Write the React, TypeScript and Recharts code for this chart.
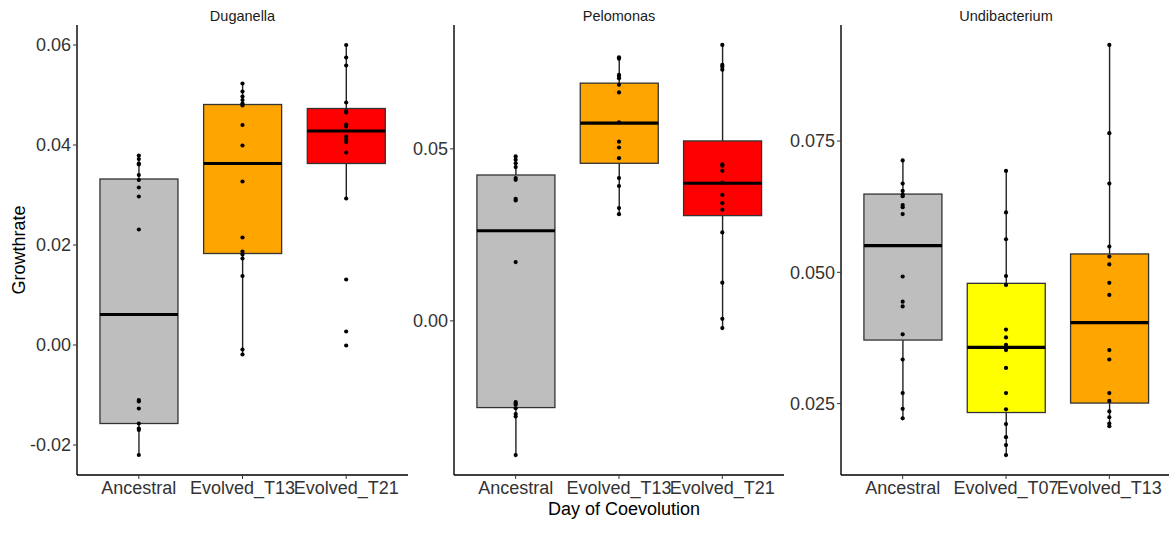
import React from 'react';
import { ComposedChart, Bar, Scatter, XAxis, YAxis } from 'recharts';

const FONT = "'Liberation Sans', Arial, Helvetica, sans-serif";

// ---------- Duganella ----------
const dugCats = ['Ancestral', 'Evolved_T13', 'Evolved_T21'];
const dugFill = ['#BEBEBE', '#FFA500', '#FF0000'];
const dugLow = [-0.022, -0.0019, 0.0293];
const dugQ1 = [-0.0157, 0.0183, 0.0363];
const dugMed = [0.0061, 0.0363, 0.0428];
const dugQ3 = [0.0332, 0.0481, 0.0473];
const dugHigh = [0.0379, 0.0523, 0.06];
const dugAncestral = [0.0379, 0.0372, 0.0363, 0.0361, 0.034, 0.033, 0.0315, 0.0297, 0.0231, -0.011, -0.0113, -0.0127, -0.0157, -0.0167, -0.017, -0.022];
const dugT13 = [0.0523, 0.0507, 0.0497, 0.049, 0.0483, 0.0479, 0.044, 0.0399, 0.0327, 0.0215, 0.0187, 0.0181, 0.0173, 0.0138, -0.0009, -0.0019];
const dugT21 = [0.06, 0.0575, 0.0559, 0.0485, 0.0468, 0.0465, 0.0441, 0.0437, 0.0417, 0.0411, 0.0406, 0.0385, 0.0293, 0.0131, 0.0027, -0.0001];
const dugTicks = [-0.02, 0, 0.02, 0.04, 0.06];

// ---------- Pelomonas ----------
const pelCats = ['Ancestral', 'Evolved_T13', 'Evolved_T21'];
const pelFill = ['#BEBEBE', '#FFA500', '#FF0000'];
const pelLow = [-0.039, 0.031, -0.0021];
const pelQ1 = [-0.0252, 0.0458, 0.0306];
const pelMed = [0.0262, 0.0575, 0.04];
const pelQ3 = [0.0424, 0.0691, 0.0523];
const pelHigh = [0.0478, 0.0766, 0.0802];
const pelAncestral = [0.0478, 0.0468, 0.0458, 0.0447, 0.0415, 0.041, 0.0355, 0.035, 0.0171, -0.0236, -0.024, -0.0244, -0.0254, -0.0271, -0.0278, -0.039];
const pelT13 = [0.0766, 0.0762, 0.0715, 0.0712, 0.0705, 0.0686, 0.0664, 0.0577, 0.0521, 0.0504, 0.0473, 0.0415, 0.0392, 0.0328, 0.031];
const pelT21 = [0.0802, 0.0744, 0.0739, 0.073, 0.0455, 0.0451, 0.0436, 0.0402, 0.0366, 0.0342, 0.0323, 0.0257, 0.0111, 0.0006, -0.0021];
const pelTicks = [0, 0.05];

// ---------- Undibacterium ----------
const undCats = ['Ancestral', 'Evolved_T07', 'Evolved_T13'];
const undFill = ['#BEBEBE', '#FFFF00', '#FFA500'];
const undLow = [0.0222, 0.0152, 0.0206];
const undQ1 = [0.0371, 0.0233, 0.0251];
const undMed = [0.0551, 0.0357, 0.0404];
const undQ3 = [0.0649, 0.0479, 0.0535];
const undHigh = [0.0713, 0.0693, 0.0933];
const undAncestral = [0.0713, 0.0669, 0.0655, 0.0648, 0.0645, 0.0628, 0.0624, 0.0611, 0.0492, 0.0444, 0.0435, 0.0382, 0.0334, 0.027, 0.024, 0.0222];
const undT07 = [0.0693, 0.0614, 0.0563, 0.0493, 0.0476, 0.0391, 0.0376, 0.0362, 0.0357, 0.0352, 0.0318, 0.027, 0.0239, 0.0211, 0.0186, 0.0171, 0.0152];
const undT13 = [0.0933, 0.0765, 0.0669, 0.0549, 0.053, 0.0515, 0.048, 0.0457, 0.0352, 0.0334, 0.027, 0.0255, 0.0235, 0.0224, 0.0212, 0.0207];
const undTicks = [0.025, 0.05, 0.075];

type Row = { cat: string; fill: string; q1: number; med: number; q3: number; box: number[]; whisk: number[] };

function makeRows(cats: string[], fill: string[], low: number[], q1: number[], med: number[], q3: number[], high: number[]): Row[] {
  return cats.map((c, i) => ({
    cat: c,
    fill: fill[i],
    q1: q1[i],
    med: med[i],
    q3: q3[i],
    box: [q1[i], q3[i]],
    whisk: [low[i], high[i]],
  }));
}

function makePoints(cats: string[], groups: number[][]) {
  const out: { cat: string; v: number }[] = [];
  groups.forEach((g, i) => g.forEach((v) => out.push({ cat: cats[i], v })));
  return out;
}

const BoxShape = (p: any) => {
  const { x, y, width, height, payload } = p;
  const top = Math.min(y, y + height);
  const h = Math.abs(height);
  const my = top + (h * (payload.q3 - payload.med)) / (payload.q3 - payload.q1);
  return (
    <g>
      <rect x={x} y={top} width={width} height={h} fill={payload.fill} stroke="#333333" strokeWidth={1.3} />
      <line x1={x} x2={x + width} y1={my} y2={my} stroke="#000" strokeWidth={3.2} />
    </g>
  );
};

const WhiskerShape = (p: any) => {
  const { x, y, width, height } = p;
  const cx = x + width / 2;
  return <line x1={cx} x2={cx} y1={y} y2={y + height} stroke="#222" strokeWidth={1.4} />;
};

const DotShape = (p: any) => <circle cx={p.cx} cy={p.cy} r={2.1} fill="#000" />;

const tickStyle = { fontSize: 18, fill: '#333333', fontFamily: FONT };

function Panel(props: {
  left: number;
  width: number;
  rows: Row[];
  points: { cat: string; v: number }[];
  domain: [number, number];
  ticks: number[];
  digits: number;
}) {
  const { left, width, rows, points, domain, ticks, digits } = props;
  return (
    <div style={{ position: 'absolute', left, top: 0 }}>
      <ComposedChart
        width={width}
        height={537}
        data={rows}
        margin={{ top: 25, right: 0, left: 0, bottom: 0 }}
        barCategoryGap="12.5%"
      >
        <XAxis
          dataKey="cat"
          type="category"
          allowDuplicatedCategory={false}
          interval={0}
          height={62}
          tick={tickStyle}
          tickSize={4}
          tickMargin={2}
          axisLine={{ stroke: '#000', strokeWidth: 1.4 }}
          tickLine={{ stroke: '#333' }}
          padding={{ left: 10, right: 10 }}
        />
        <XAxis xAxisId="w" dataKey="cat" type="category" hide padding={{ left: 10, right: 10 }} />
        <YAxis
          type="number"
          domain={domain}
          allowDataOverflow
          ticks={ticks}
          width={77}
          tick={tickStyle}
          tickSize={4}
          tickMargin={2}
          tickFormatter={(v: number) => v.toFixed(digits)}
          axisLine={{ stroke: '#000', strokeWidth: 1.4 }}
          tickLine={{ stroke: '#333' }}
        />
        <Bar xAxisId="w" dataKey="whisk" shape={WhiskerShape} isAnimationActive={false} />
        <Bar dataKey="box" shape={BoxShape} isAnimationActive={false} />
        <Scatter data={points} dataKey="v" shape={DotShape} isAnimationActive={false} />
      </ComposedChart>
    </div>
  );
}

const label = (text: string, x: number, y: number, size: number, color: string, rotate = 0): React.ReactNode => (
  <div
    style={{
      position: 'absolute',
      left: x,
      top: y,
      transform: `translate(-50%, -50%) rotate(${rotate}deg)`,
      fontFamily: FONT,
      fontSize: size,
      color,
      whiteSpace: 'nowrap',
      lineHeight: 1,
    }}
  >
    {text}
  </div>
);

export default function App() {
  const dugRows = makeRows(dugCats, dugFill, dugLow, dugQ1, dugMed, dugQ3, dugHigh);
  const pelRows = makeRows(pelCats, pelFill, pelLow, pelQ1, pelMed, pelQ3, pelHigh);
  const undRows = makeRows(undCats, undFill, undLow, undQ1, undMed, undQ3, undHigh);
  const dugPts = makePoints(dugCats, [dugAncestral, dugT13, dugT21]);
  const pelPts = makePoints(pelCats, [pelAncestral, pelT13, pelT21]);
  const undPts = makePoints(undCats, [undAncestral, undT07, undT13]);
  return (
    <div style={{ position: 'absolute', left: 0, top: 0, width: 1169, height: 537, overflow: 'hidden', background: '#fff' }}>
      <Panel left={0} width={408} rows={dugRows} points={dugPts} domain={[-0.026, 0.064]} ticks={dugTicks} digits={2} />
      <Panel left={377} width={407} rows={pelRows} points={pelPts} domain={[-0.0448, 0.086]} ticks={pelTicks} digits={2} />
      <Panel left={764} width={407} rows={undRows} points={undPts} domain={[0.0114, 0.0971]} ticks={undTicks} digits={3} />
      {label('Duganella', 242.5, 16, 14.5, '#1a1a1a')}
      {label('Pelomonas', 619, 16, 14.5, '#1a1a1a')}
      {label('Undibacterium', 1006, 16, 14.5, '#1a1a1a')}
      {label('Growthrate', 19, 250, 18, '#000', -90)}
      {label('Day of Coevolution', 624, 509, 18, '#000')}
    </div>
  );
}
